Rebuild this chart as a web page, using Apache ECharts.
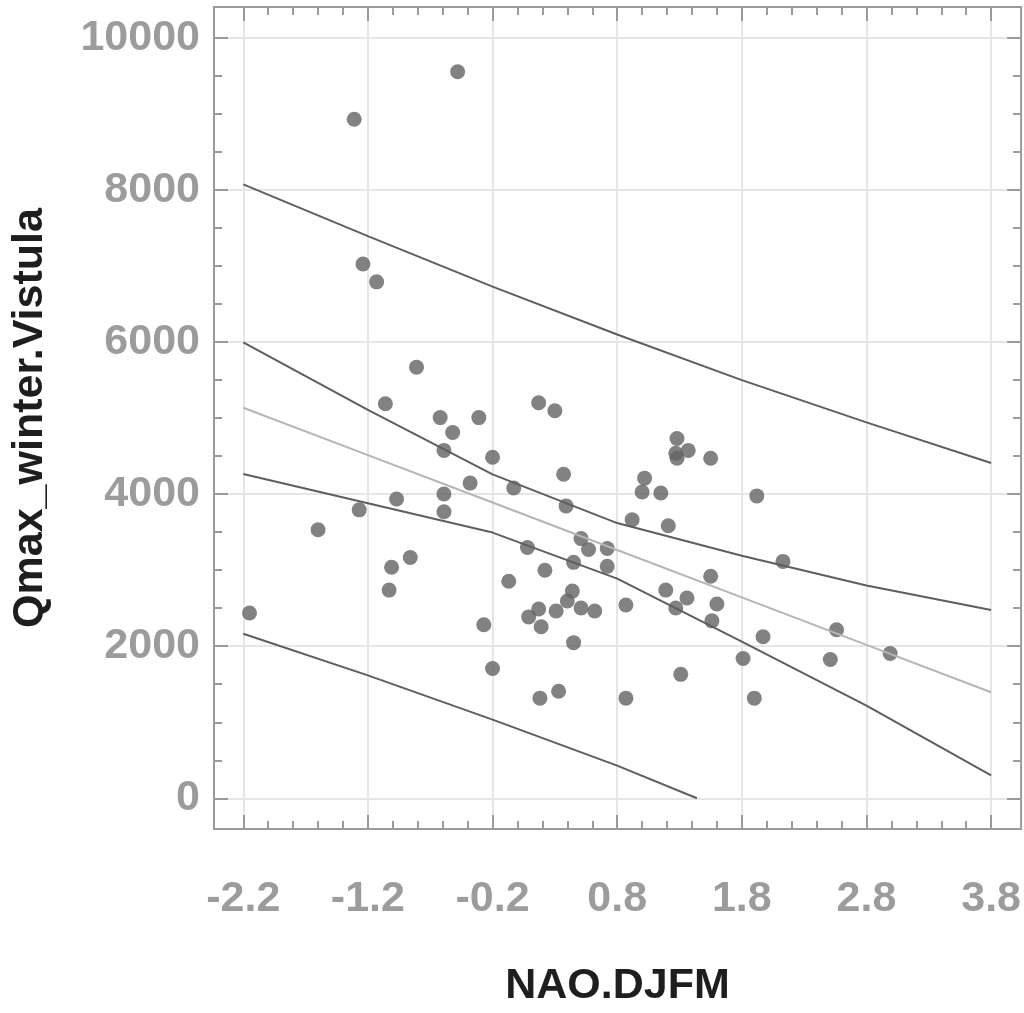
<!DOCTYPE html>
<html><head><meta charset="utf-8">
<script src="https://cdn.jsdelivr.net/npm/echarts@6/dist/echarts.min.js"></script>
<style>html,body{margin:0;padding:0;background:#fff}#c{width:1024px;height:1013px}</style>
</head><body><div id="c"></div>
<script>
// Observations
const nao = [-2.15,-1.60,-1.31,-1.27,-1.24,-1.13,-1.06,-1.03,-1.01,-0.97,-0.86,-0.81,-0.62,-0.59,-0.59,-0.59,-0.52,-0.48,-0.38,-0.31,-0.27,-0.20,-0.20,-0.07,-0.03,0.08,0.09,0.17,0.17,0.18,0.19,0.22,0.30,0.31,0.33,0.37,0.39,0.40,0.44,0.45,0.45,0.51,0.51,0.57,0.62,0.72,0.72,0.87,0.87,0.92,1.00,1.02,1.15,1.19,1.21,1.27,1.27,1.28,1.28,1.31,1.36,1.37,1.55,1.55,1.56,1.60,1.81,1.90,1.92,1.97,2.13,2.51,2.56,2.99];
const qmax = [2438,3533,8931,3794,7027,6793,5189,2738,3038,3937,3168,5671,5007,4576,4003,3768,4811,9557,4146,5007,2282,4485,1708,2855,4081,3299,2386,5202,2490,1317,2256,2999,5098,2464,1408,4263,3846,2595,2725,3103,2047,3416,2503,3272,2464,3286,3051,2542,1317,3664,4029,4211,4016,2738,3585,4537,2503,4733,4472,1630,2634,4576,4472,2920,2334,2555,1838,1317,3977,2125,3116,1825,2216,1904];

// Fitted line and bands
const bandX = [-2.2,-1.2,-0.2,0.8,1.8,2.8,3.8];
const fitY = [5137,4513,3890,3266,2642,2018,1395];
const confUpper = [5997,5110,4260,3620,3190,2800,2477];
const confLower = [4265,3880,3495,2890,2060,1220,300];
const predUpper = [8074,7395,6730,6100,5500,4945,4411];
const predLowerX = [-2.2,-1.2,-0.2,0.8,1.44];
const predLower = [2164,1617,1034,430,0];

// Ticks
const xMajor = [-2.2,-1.2,-0.2,0.8,1.8,2.8,3.8];
const xMinor = [-2.0,-1.8,-1.6,-1.4,-1.0,-0.8,-0.6,-0.4,0.0,0.2,0.4,0.6,1.0,1.2,1.4,1.6,2.0,2.2,2.4,2.6,3.0,3.2,3.4,3.6];
const yMajor = [0,2000,4000,6000,8000,10000];
const yMinor = [500,1000,1500,2500,3000,3500,4500,5000,5500,6500,7000,7500,8500,9000,9500];

const xMin = -2.4348, xMax = 4.0404, yMin = -404, yMax = 10408;
const AX = '#9a9a9a';
const LBL = '#9c9c9c';
const FONT = '"Liberation Sans", Arial, sans-serif';
const GRIDC = '#e6e6e6';

function pairs(xs, ys){ return xs.map((x,i)=>[x, ys[i]]); }

function xAx(pos, ticks, len, main){
  return {
    type:'value', min:xMin, max:xMax, position:pos,
    axisLine:{show:false, onZero:false},
    axisTick:{show:true, inside:true, length:len, customValues:ticks, lineStyle:{color:AX, width:2}},
    axisLabel: main ? {show:true, customValues:xMajor, margin:49, formatter:v=>Number(v).toFixed(1),
      color:LBL, fontSize:43, fontWeight:'bold', fontFamily:FONT} : {show:false},
    splitLine: main ? {show:true, lineStyle:{color:GRIDC, width:2}} : {show:false},
    name: main ? 'NAO.DJFM' : '',
    nameLocation:'middle', nameGap:136,
    nameTextStyle:{color:'#1e1e1e', fontSize:43, fontWeight:'bold', fontFamily:FONT}
  };
}
function yAx(pos, ticks, len, main){
  return {
    type:'value', min:yMin, max:yMax, position:pos,
    axisLine:{show:false, onZero:false},
    axisTick:{show:true, inside:true, length:len, customValues:ticks, lineStyle:{color:AX, width:2}},
    axisLabel: main ? {show:true, customValues:yMajor, margin:14, formatter:v=>String(Math.round(v)),
      color:LBL, fontSize:43, fontWeight:'bold', fontFamily:FONT} : {show:false},
    splitLine: main ? {show:true, lineStyle:{color:GRIDC, width:2}} : {show:false},
    name: main ? 'Qmax_winter.Vistula' : '',
    nameLocation:'middle', nameGap:162,
    nameTextStyle:{color:'#1e1e1e', fontSize:43, fontWeight:'bold', fontFamily:FONT}
  };
}

const lineStyleDark = {color:'#5e5e5e', width:2};
function lineSeries(xs, ys, style){
  return {type:'line', data:pairs(xs, ys), xAxisIndex:0, yAxisIndex:0, showSymbol:false, symbol:'none',
    lineStyle:style, z:5, silent:true};
}

const chart = echarts.init(document.getElementById('c'), null, {renderer:'canvas'});
chart.setOption({
  animation:false,
  backgroundColor:'#ffffff',
  grid:{left:214, top:7, width:808, height:829, show:true, borderColor:AX, borderWidth:2, backgroundColor:'transparent'},
  xAxis:[xAx('bottom', xMajor, 14, true), xAx('bottom', xMinor, 8, false), xAx('top', xMajor, 14, false), xAx('top', xMinor, 8, false)],
  yAxis:[yAx('left', yMajor, 14, true), yAx('left', yMinor, 8, false), yAx('right', yMajor, 14, false), yAx('right', yMinor, 8, false)],
  series:[
    {type:'scatter', data:pairs(nao, qmax), xAxisIndex:0, yAxisIndex:0, symbolSize:15,
      itemStyle:{color:'#636363'}, z:3, silent:true},
    lineSeries(bandX, fitY, {color:'#b5b5b5', width:2}),
    lineSeries(bandX, confUpper, lineStyleDark),
    lineSeries(bandX, confLower, lineStyleDark),
    lineSeries(bandX, predUpper, lineStyleDark),
    lineSeries(predLowerX, predLower, lineStyleDark)
  ]
});
</script></body></html>
